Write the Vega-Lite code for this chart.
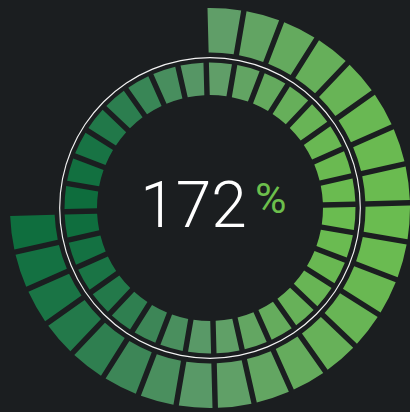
{
  "$schema": "https://vega.github.io/schema/vega-lite/v6.json",
  "width": 400,
  "height": 408,
  "autosize": "none",
  "padding": {"left": 10, "top": 4, "right": 0, "bottom": 0},
  "background": "#1b1e20",
  "view": {"stroke": null},
  "config": {"font": "Roboto"},
  "datasets": {
    "inner": [
      {"from": 0, "to": 1}, {"from": 1, "to": 2}, {"from": 2, "to": 3}, {"from": 3, "to": 4},
      {"from": 4, "to": 5}, {"from": 5, "to": 6}, {"from": 6, "to": 7}, {"from": 7, "to": 8},
      {"from": 8, "to": 9}, {"from": 9, "to": 10}, {"from": 10, "to": 11}, {"from": 11, "to": 12},
      {"from": 12, "to": 13}, {"from": 13, "to": 14}, {"from": 14, "to": 15}, {"from": 15, "to": 16},
      {"from": 16, "to": 17}, {"from": 17, "to": 18}, {"from": 18, "to": 19}, {"from": 19, "to": 20},
      {"from": 20, "to": 21}, {"from": 21, "to": 22}, {"from": 22, "to": 23}, {"from": 23, "to": 24},
      {"from": 24, "to": 25}, {"from": 25, "to": 26}, {"from": 26, "to": 27}, {"from": 27, "to": 28},
      {"from": 28, "to": 29}, {"from": 29, "to": 30}, {"from": 30, "to": 31}, {"from": 31, "to": 32}
    ],
    "outer": [
      {"from": 0, "to": 1}, {"from": 1, "to": 2}, {"from": 2, "to": 3}, {"from": 3, "to": 4},
      {"from": 4, "to": 5}, {"from": 5, "to": 6}, {"from": 6, "to": 7}, {"from": 7, "to": 8},
      {"from": 8, "to": 9}, {"from": 9, "to": 10}, {"from": 10, "to": 11}, {"from": 11, "to": 12},
      {"from": 12, "to": 13}, {"from": 13, "to": 14}, {"from": 14, "to": 15}, {"from": 15, "to": 16},
      {"from": 16, "to": 17}, {"from": 17, "to": 18}, {"from": 18, "to": 19}, {"from": 19, "to": 20},
      {"from": 20, "to": 21}, {"from": 21, "to": 22}, {"from": 22, "to": 23}, {"from": 23, "to": 24}
    ],
    "label": [{"value": 172}]
  },
  "layer": [
    {
      "data": {"name": "inner"},
      "mark": {"type": "arc", "radius": 145.5, "radius2": 113, "padAngle": 0.0295},
      "encoding": {
        "theta": {"field": "from", "type": "quantitative", "stack": null, "scale": {"domain": [0, 32], "range": [-0.02618, 6.25701]}},
        "theta2": {"field": "to"},
        "color": {
          "field": "from", "type": "ordinal", "legend": null,
          "scale": {
            "domain": [0,1,2,3,4,5,6,7,8,9,10,11,12,13,14,15,16,17,18,19,20,21,22,23,24,25,26,27,28,29,30,31],
            "range": ["#609e68","#62a463","#64aa5e","#66af5a","#68b456","#69b853","#6aba51","#6abb50","#6abc50","#6abb51","#69b852","#68b555","#67b159","#65ac5d","#63a662","#60a067","#599967","#4a8f5e","#3d8657","#2f7f50","#23794a","#1a7445","#147142","#0f6e3e","#0e6d3d","#127040","#187344","#217849","#2c7e4f","#398656","#488e5e","#569665"]
          }
        }
      }
    },
    {
      "data": {"name": "outer"},
      "mark": {"type": "arc", "radius": 200, "radius2": 155.5, "padAngle": 0.0215},
      "encoding": {
        "theta": {"field": "from", "type": "quantitative", "stack": null},
        "theta2": {"field": "to"},
        "color": {"field": "from", "type": "ordinal", "legend": null}
      }
    },
    {
      "data": {"values": [{"track": 1}]},
      "mark": {"type": "arc", "radius": 150.9, "radius2": 149.7, "theta": 0, "theta2": 6.2832, "color": "#f2f2f2"},
      "encoding": {}
    },
    {
      "data": {"name": "label"},
      "mark": {"type": "text", "font": "Roboto", "fontSize": 64, "fontWeight": 300, "color": "#ffffff", "align": "center", "baseline": "alphabetic", "dx": -16.5, "dy": 18.7},
      "encoding": {"text": {"field": "value", "type": "quantitative"}}
    },
    {
      "data": {"name": "label"},
      "mark": {"type": "text", "text": "%", "font": "Roboto", "fontSize": 43, "fontWeight": 400, "color": "#6cbf4c", "align": "left", "baseline": "alphabetic", "dx": 45, "dy": 5.3},
      "encoding": {}
    }
  ]
}
